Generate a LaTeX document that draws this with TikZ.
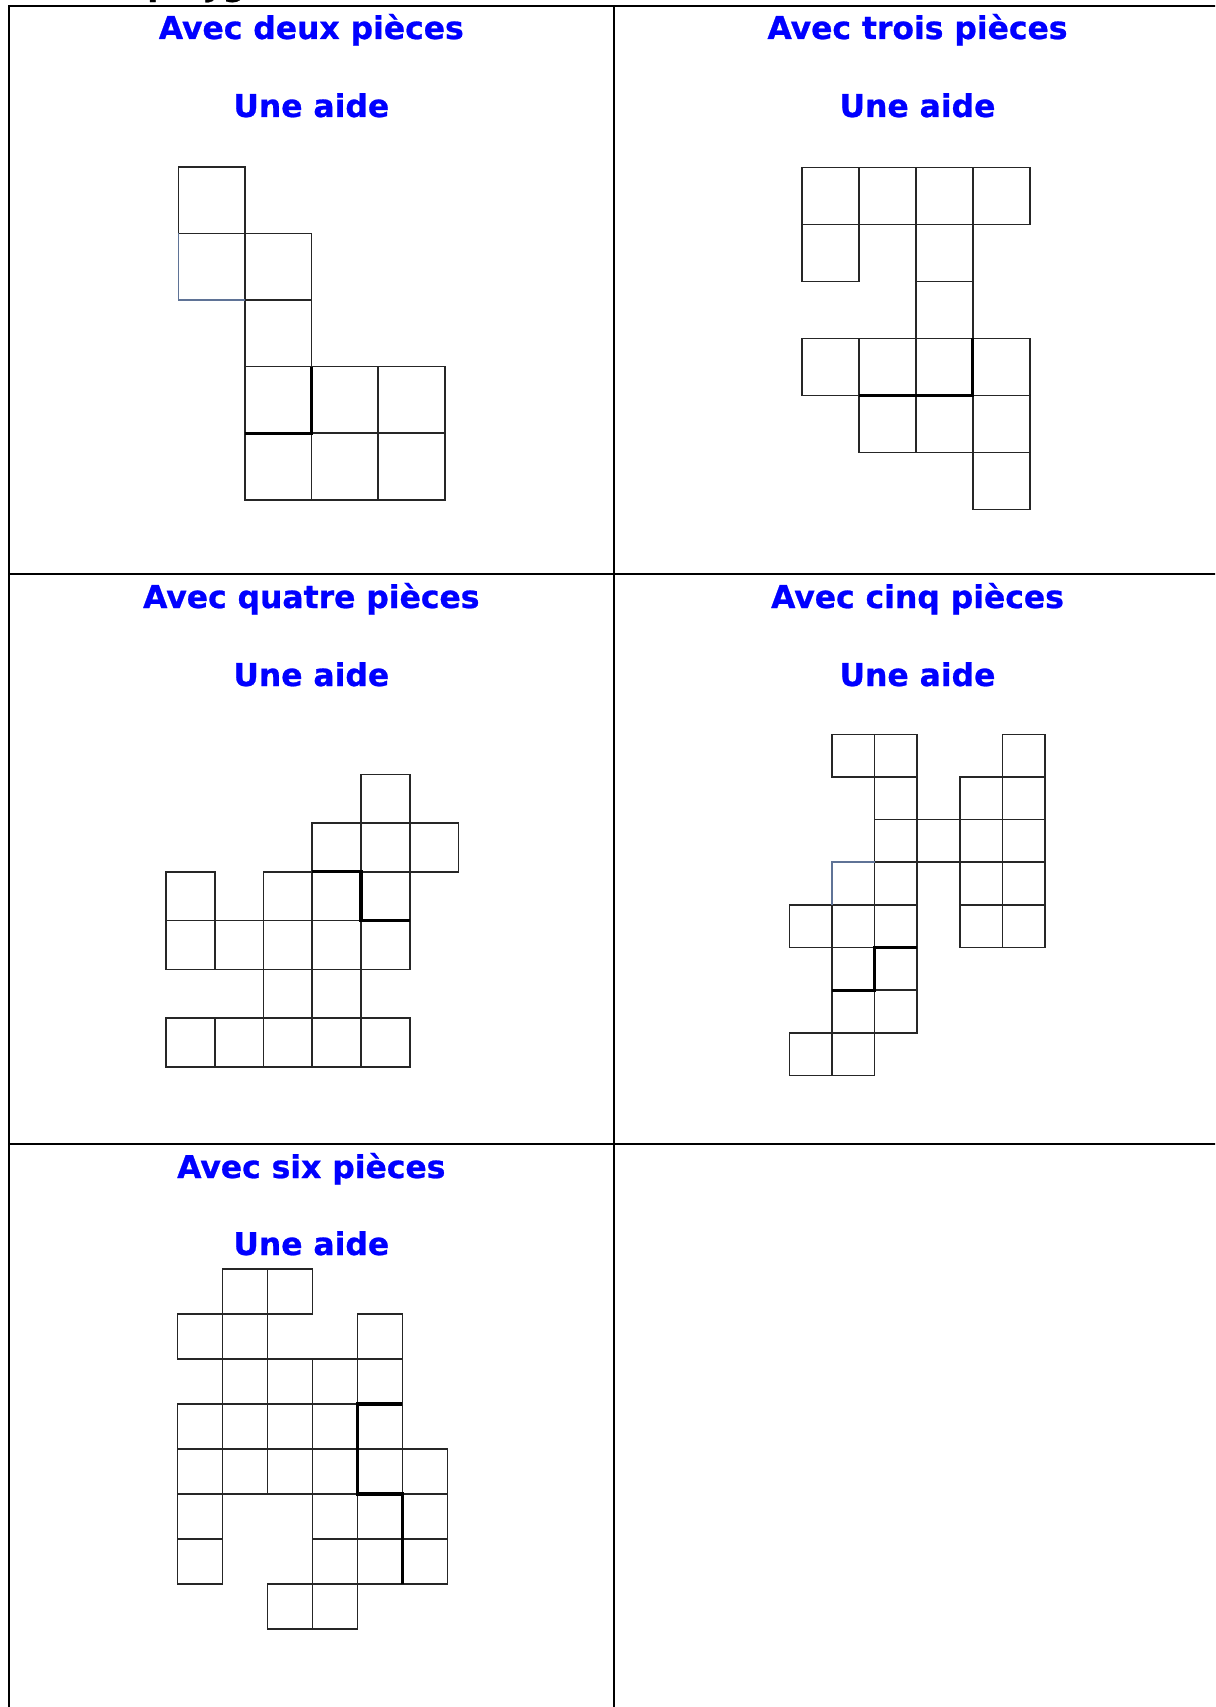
\documentclass[tikz,border=0pt]{standalone}
\usepackage{fontspec}
\setmainfont{DejaVu Sans}[BoldFeatures={FakeBold=0.8}]
\usetikzlibrary{positioning}
\definecolor{bleugris}{RGB}{95,115,150}

\begin{document}
\begin{tikzpicture}[x=0.5pt, y=-0.5pt,
  every node/.style={font=\fontsize{15.7}{18}\selectfont\bfseries, inner sep=0pt},
  titre/.style={text=blue, anchor=base},
  case/.style={line width=0.8pt, black!85},
  casebleue/.style={line width=0.8pt, bleugris},
  coupe/.style={line width=1.6pt, black},
  tableau/.style={line width=1.1pt, black}]
  \useasboundingbox (0,0) rectangle (1215,1707);
  \clip (0,0) rectangle (1215,1707);
  % tableau
  \draw[tableau] (8.7,1800) -- (8.7,5.7) -- (1300,5.7);
  \draw[tableau] (8.7,574.3) -- (1300,574.3);
  \draw[tableau] (8.7,1144.3) -- (1300,1144.3);
  \draw[tableau] (614,5.7) -- (614,1800);
  \draw[tableau] (1221,5.7) -- (1221,1800);
  % titres
  \node[anchor=base west] (polyg) at (147,-4.5) {polyg};
  \node[titre] (deux) at (311.3,39) {Avec deux pièces};
  \node[titre] (aidedeux) at (311.3,117) {Une aide};
  \node[titre] (trois) at (917.5,39) {Avec trois pièces};
  \node[titre] (aidetrois) at (917.5,117) {Une aide};
  \node[titre] (quatre) at (311.3,608) {Avec quatre pièces};
  \node[titre] (aidequatre) at (311.3,686) {Une aide};
  \node[titre] (cinq) at (917.5,608) {Avec cinq pièces};
  \node[titre] (aidecinq) at (917.5,686) {Une aide};
  \node[titre] (six) at (311.3,1178) {Avec six pièces};
  \node[titre] (aidesix) at (311.3,1255) {Une aide};
  % deux pieces
  \begin{scope}[shift={(178.3,166.7)}, x=33.3pt, y=-33.3pt]
    \foreach \c/\r in {0/0,1/1,1/2,1/3,2/3,3/3,1/4,2/4,3/4}
      \draw[case] (\c,\r) rectangle ++(1,1);
    \draw[casebleue] (0,1) -- (0,2) -- (1,2);
    \draw[coupe] (2,3) -- (2,4) -- (1,4);
  \end{scope}
  % trois pieces
  \begin{scope}[shift={(801.7,167.3)}, x=28.5pt, y=-28.5pt]
    \foreach \c/\r in {0/0,1/0,2/0,3/0,0/1,2/1,2/2,0/3,1/3,2/3,3/3,1/4,2/4,3/4,3/5}
      \draw[case] (\c,\r) rectangle ++(1,1);
    \draw[coupe] (3,3) -- (3,4) -- (1,4);
  \end{scope}
  % quatre pieces
  \begin{scope}[shift={(166,774.3)}, x=24.375pt, y=-24.375pt]
    \foreach \c/\r in {4/0,3/1,4/1,5/1,0/2,2/2,3/2,4/2,0/3,1/3,2/3,3/3,4/3,2/4,3/4,0/5,1/5,2/5,3/5,4/5}
      \draw[case] (\c,\r) rectangle ++(1,1);
    \draw[coupe] (3,2) -- (4,2) -- (4,3) -- (5,3);
  \end{scope}
  % cinq pieces
  \begin{scope}[shift={(789.3,734.3)}, x=21.325pt, y=-21.325pt]
    \foreach \c/\r in {1/0,2/0,5/0,2/1,4/1,5/1,2/2,3/2,4/2,5/2,2/3,4/3,5/3,0/4,1/4,2/4,4/4,5/4,1/5,2/5,1/6,2/6,0/7,1/7}
      \draw[case] (\c,\r) rectangle ++(1,1);
    \draw[casebleue] (1,4) -- (1,3) -- (2,3);
    \draw[coupe] (3,5) -- (2,5) -- (2,6) -- (1,6);
  \end{scope}
  % six pieces
  \begin{scope}[shift={(177.3,1269)}, x=22.5pt, y=-22.5pt]
    \foreach \c/\r in {1/0,2/0,0/1,1/1,4/1,1/2,2/2,3/2,4/2,0/3,1/3,2/3,3/3,4/3,0/4,1/4,2/4,3/4,4/4,5/4,0/5,3/5,4/5,5/5,0/6,3/6,4/6,5/6,2/7,3/7}
      \draw[case] (\c,\r) rectangle ++(1,1);
    \draw[coupe] (5,3) -- (4,3) -- (4,5) -- (5,5) -- (5,7);
  \end{scope}
\end{tikzpicture}
\end{document}
